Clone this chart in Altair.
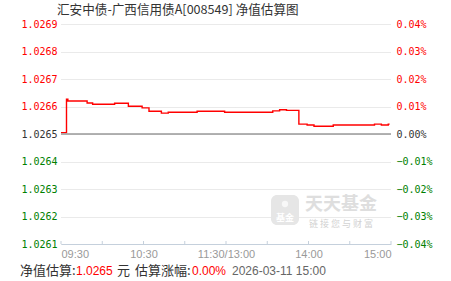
import altair as alt
import pandas as pd

title_text = "汇安中债-广西信用债A[008549] 净值估算图"
base_nav = 1.0265

# minutes since 09:30 along the trading session (0..240) and estimated NAV
minutes = [0, 4, 5, 19, 23, 39, 49, 59, 64, 73, 78, 99, 119, 154, 159, 164,
           173, 179, 184, 198, 228, 233, 238, 239]
navs = [1.026505, 1.026627, 1.026620, 1.026613, 1.026608, 1.026612, 1.026601,
        1.026595, 1.026583, 1.026576, 1.026579, 1.026583, 1.026579, 1.026584,
        1.026588, 1.026586, 1.026536, 1.026533, 1.026528, 1.026533, 1.026536,
        1.026533, 1.026536, 1.026536]

nav_ticks = [1.0261, 1.0262, 1.0263, 1.0264, 1.0265, 1.0266, 1.0267, 1.0268, 1.0269]
pct_ticks = [-0.04, -0.03, -0.02, -0.01, 0.0, 0.01, 0.02, 0.03, 0.04]
tick_minutes = [0, 30, 60, 90, 120, 150, 180, 210, 240]
tick_labels = {0: "09:30", 60: "10:30", 120: "11:30/13:00", 180: "14:00", 240: "15:00"}

footer_nav = "1.0265"
footer_pct = "0.00%"
footer_time = "2026-03-11 15:00"

W, H = 330, 220
RED, GREEN, DARK = "#ff0000", "#008000", "#333333"
CJK = "Noto Sans CJK SC"

df = pd.DataFrame({"m": minutes, "nav": navs})
ticks_df = pd.DataFrame({"m": tick_minutes})
base_df = pd.DataFrame({"pct": [0.0]})
one = pd.DataFrame({"a": [0]})

label_expr = " : ".join(
    [f"datum.value == {k} ? '{v}'" for k, v in tick_labels.items()]) + " : ''"

x_scale = alt.Scale(domain=[0, 240], nice=False, zero=False)

x_axis = alt.Axis(values=tick_minutes, labelExpr=label_expr, grid=False, ticks=False,
                  domainColor="#c5d0dc", domainWidth=1, labelColor="#999999",
                  labelFont="Liberation Sans", labelFontSize=11, labelPadding=4,
                  labelFlush=True, labelOverlap=False, title=None)

left_axis = alt.Axis(values=nav_ticks, format=".4f", orient="left", grid=True,
                     gridColor="#d4d4d4", gridDash=[1, 1], domain=False, ticks=False,
                     labelFont="DejaVu Sans Mono", labelFontSize=10,
                     labelColor={"expr": f"datum.value > {base_nav + 0.00001} ? '{RED}' : (datum.value < {base_nav - 0.00001} ? '{GREEN}' : '{DARK}')"},
                     labelPadding=4, labelFlush=False, labelOverlap=False, title=None)

right_axis = alt.Axis(values=pct_ticks, orient="right", grid=False, domain=False, ticks=False,
                      labelExpr="format(datum.value, '.2f') + '%'",
                      labelFont="DejaVu Sans Mono", labelFontSize=10,
                      labelColor={"expr": f"datum.value > 0.001 ? '{RED}' : (datum.value < -0.001 ? '{GREEN}' : '{DARK}')"},
                      labelPadding=5, labelFlush=False, labelOverlap=False, title=None)

line = alt.Chart(df).mark_line(color=RED, strokeWidth=1.4, interpolate="step-after").encode(
    x=alt.X("m:Q", scale=x_scale, axis=x_axis),
    y=alt.Y("nav:Q", scale=alt.Scale(domain=[nav_ticks[0], nav_ticks[-1]], nice=False, zero=False),
            axis=left_axis),
)

base_rule = alt.Chart(base_df).mark_rule(color="#999999", strokeWidth=1.5).encode(
    y=alt.Y("pct:Q", scale=alt.Scale(domain=[pct_ticks[0], pct_ticks[-1]], nice=False, zero=False),
            axis=right_axis),
)

tick_rules = alt.Chart(ticks_df).mark_rule(color="#c5d0dc", strokeWidth=1).encode(
    x=alt.X("m:Q", scale=x_scale, axis=x_axis),
    y=alt.value(H - 3), y2=alt.value(H),
)

# watermark
logo = alt.Chart(one).mark_rect(color="#e6e6e6", cornerRadius=6).encode(
    x=alt.value(210), x2=alt.value(238), y=alt.value(171), y2=alt.value(201))
logo_dot = alt.Chart(one).mark_point(shape="circle", filled=True, color="#ffffff", size=40).encode(
    x=alt.value(224), y=alt.value(180))
logo_txt = alt.Chart(one).mark_text(text="基金", font=CJK, fontSize=9, fontWeight="bold",
                                     color="#ffffff").encode(x=alt.value(224), y=alt.value(194))
wm_big = alt.Chart(one).mark_text(text="天天基金", font=CJK, fontSize=18, fontWeight="bold",
                                   color="#dedede").encode(x=alt.value(280), y=alt.value(181))
wm_small = alt.Chart(one).mark_text(text="链 接 您 与 财 富", font=CJK, fontSize=9,
                                     color="#d2d2d2").encode(x=alt.value(280), y=alt.value(200))

# title and footer
title = alt.Chart(one).mark_text(text=title_text, font=CJK, fontSize=12.6, color=DARK,
                                  align="left", baseline="middle").encode(
    x=alt.value(-4), y=alt.value(-14))


def ftxt(t, xpos, color=DARK, font=CJK, size=13):
    return alt.Chart(one).mark_text(text=t, font=font, fontSize=size, color=color,
                                    align="left", baseline="middle").encode(
        x=alt.value(xpos), y=alt.value(246.5))


footer = [
    ftxt("净值估算:", -41),
    ftxt(footer_nav, 15, RED, "Liberation Sans", 12),
    ftxt("元", 56),
    ftxt("估算涨幅:", 74),
    ftxt(footer_pct, 131, RED, "Liberation Sans", 12),
    ftxt(footer_time, 171, "#666666", "Liberation Sans", 12),
]

chart = alt.layer(
    line, base_rule, tick_rules, logo, logo_dot, logo_txt, wm_big, wm_small, title, *footer
).resolve_scale(y="independent").properties(
    width=W, height=H,
    autosize=alt.AutoSizeParams(type="none"),
    padding={"left": 61, "top": 24, "right": 60, "bottom": 37},
    background="#ffffff",
).configure_view(stroke=None)

chart.save("out.html", embed_options={"renderer": "svg", "actions": False})
